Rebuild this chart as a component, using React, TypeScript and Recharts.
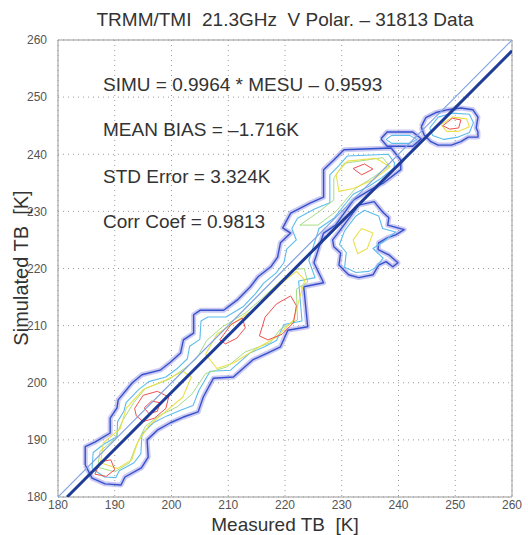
import React from "react";
import {
  CartesianGrid,
  ReferenceLine,
  Scatter,
  ScatterChart,
  XAxis,
  YAxis,
} from "recharts";

type Pt = [number, number];

// axis ticks
const xTicks = [180, 190, 200, 210, 220, 230, 240, 250, 260];
const yTicks = [180, 190, 200, 210, 220, 230, 240, 250, 260];

// 1:1 line and fitted line
const oneToOne: Pt[] = [[180, 180], [260, 260]];
const fitLine: Pt[] = [[181.6, 180], [260, 258.1]];

// main band along the diagonal - outermost contour
const mainOuter: Pt[] = [
  [184.8, 185.6], [184.8, 188.8], [186.5, 189.6], [189.2, 191.2], [189.2, 193.8], [190.4, 195.6],
  [190.6, 197.0], [193.1, 200.0], [194.8, 201.4], [198.0, 202.2], [199.8, 203.6], [201.6, 205.2],
  [202.1, 207.5], [203.9, 208.7], [203.9, 211.9], [205.1, 212.7], [209.2, 212.7], [211.6, 214.5],
  [213.9, 216.8], [215.2, 218.5], [217.5, 220.3], [218.7, 222.0], [219.2, 224.5], [221.0, 226.2],
  [219.6, 227.1], [221.0, 229.7], [224.5, 231.5], [226.8, 232.5], [226.8, 237.3], [228.6, 239.0],
  [230.4, 240.8], [238.7, 241.1], [240.4, 239.0], [240.4, 237.3], [237.4, 235.0], [235.1, 233.8],
  [232.1, 232.0], [228.9, 227.6], [226.8, 226.2], [225.1, 221.0], [226.8, 217.5], [223.3, 216.8],
  [224.0, 209.8], [220.5, 209.2], [219.2, 206.3], [216.9, 205.2], [214.3, 204.0], [210.9, 201.0],
  [207.4, 200.8], [205.6, 197.5], [204.7, 194.9], [202.1, 194.0], [199.8, 193.0], [197.5, 191.7],
  [195.7, 190.0], [195.9, 187.0], [194.7, 185.1], [191.8, 183.5], [191.1, 182.1], [188.3, 182.3],
  [186.0, 183.3], [184.8, 185.6],
];

const mainInner: Pt[] = [
  [186.0, 185.0], [186.2, 187.8], [188.0, 189.2], [190.4, 190.6], [190.5, 193.2], [191.6, 195.0],
  [192.0, 196.5], [194.2, 198.8], [196.0, 200.2], [199.0, 201.0], [200.9, 202.4], [202.8, 204.2],
  [203.2, 206.4], [205.0, 207.6], [205.2, 210.8], [206.4, 211.5], [209.6, 211.5], [212.6, 213.3],
  [214.8, 215.6], [216.2, 217.4], [218.4, 219.2], [219.8, 221.0], [220.3, 223.4], [222.0, 225.0],
  [221.2, 227.0], [222.2, 228.8], [225.2, 230.4], [227.9, 231.5], [227.9, 236.4], [229.5, 238.0],
  [231.0, 239.7], [238.2, 240.0], [239.3, 238.5], [239.2, 237.6], [236.8, 235.7], [234.8, 234.4],
  [232.0, 233.0], [228.6, 228.8], [226.0, 227.0], [224.2, 221.4], [225.3, 218.4], [222.4, 217.8],
  [223.0, 210.8], [219.8, 210.2], [218.5, 207.4], [216.4, 206.3], [213.8, 205.2], [210.4, 202.2],
  [206.8, 202.0], [204.8, 198.6], [203.8, 196.0], [201.6, 195.2], [199.2, 194.2], [196.8, 193.0],
  [194.8, 191.0], [194.6, 187.6], [193.4, 186.0], [190.8, 184.6], [190.2, 183.4], [188.2, 183.5],
  [186.0, 185.0],
];

// separate blob below the line around 230 K
const lowerOuter: Pt[] = [
  [233.0, 231.1], [235.7, 231.7], [237.2, 229.9], [238.3, 228.9], [238.1, 227.6], [241.0, 226.8],
  [239.5, 225.9], [238.1, 225.4], [236.5, 224.5], [236.4, 223.3], [238.3, 222.4], [239.9, 221.0],
  [239.0, 220.3], [237.8, 221.2], [236.5, 220.6], [235.5, 218.9], [233.0, 218.4], [231.2, 218.9],
  [229.5, 220.6], [229.8, 222.7], [228.6, 223.8], [228.4, 225.0], [229.5, 226.4], [233.0, 231.1],
];
const lowerInner: Pt[] = [
  [234.0, 230.2], [236.5, 229.2], [237.2, 227.0], [239.5, 226.4], [237.2, 224.6], [235.5, 223.5],
  [237.3, 221.8], [236.0, 220.2], [234.8, 219.5], [232.5, 219.3], [230.5, 220.2], [230.8, 222.8],
  [229.6, 224.2], [230.5, 226.6], [232.5, 229.2], [234.0, 230.2],
];

// top right blob
const topOuter: Pt[] = [
  [244.0, 244.8], [244.8, 246.4], [246.6, 247.3], [248.7, 247.8], [251.0, 248.1], [253.1, 247.8],
  [254.0, 246.5], [253.7, 244.6], [254.0, 243.9], [254.0, 243.0], [252.3, 243.0], [251.0, 242.2],
  [249.3, 241.6], [247.0, 241.6], [245.7, 242.2], [244.5, 243.4], [244.0, 244.8],
];
const topInner: Pt[] = [
  [245.5, 244.6], [247.0, 246.5], [249.5, 247.2], [252.5, 247.0], [253.2, 245.5], [252.5, 243.8],
  [250.5, 243.0], [248.0, 242.6], [246.0, 243.3], [245.5, 244.6],
];

// small oval left of the top blob
const ovalOuter: Pt[] = [
  [236.9, 242.7], [238.0, 243.9], [242.5, 243.9], [244.0, 242.7], [242.5, 241.4], [238.0, 241.4], [236.9, 242.7],
];
const ovalInner: Pt[] = [
  [237.8, 242.6], [238.8, 243.3], [242.0, 243.3], [243.2, 242.6], [242.0, 241.9], [238.8, 241.9], [237.8, 242.6],
];

// green level
const greenLow: Pt[] = [
  [187.0, 185.2], [187.4, 188.0], [190.0, 190.2], [191.4, 193.4], [193.4, 196.6], [195.4, 199.0],
  [199.6, 200.6], [202.4, 202.6], [204.4, 204.2], [206.2, 207.4], [209.0, 209.8], [213.0, 212.2],
  [216.0, 214.8], [218.8, 217.4], [221.4, 219.8], [223.4, 220.0], [224.0, 217.6], [222.0, 216.4],
  [222.2, 211.0], [219.2, 209.4], [217.4, 207.0], [213.0, 205.4], [209.8, 202.8], [206.0, 201.6],
  [203.6, 198.0], [201.0, 195.8], [197.8, 194.2], [195.4, 192.4], [193.6, 188.6], [192.6, 186.0],
  [190.0, 184.4], [187.0, 185.2],
];
const greenUp: Pt[] = [
  [222.6, 227.6], [225.8, 229.8], [228.6, 232.0], [228.6, 235.8], [230.4, 238.4], [237.2, 239.4],
  [238.4, 238.0], [235.6, 236.0], [232.4, 234.0], [229.0, 230.0], [225.8, 227.6], [222.6, 227.6],
];

// yellow levels
const yellowLow: Pt[] = [
  [187.5, 186.0], [188.0, 189.5], [191.0, 192.0], [192.0, 195.5], [195.0, 198.8], [199.0, 200.5],
  [202.0, 202.0], [203.5, 201.0], [202.0, 197.5], [199.0, 195.0], [196.0, 192.5], [194.0, 189.5],
  [193.0, 186.5], [190.5, 185.0], [187.5, 186.0],
];
const yellowMid: Pt[] = [
  [206.0, 205.0], [208.0, 208.5], [211.0, 210.5], [214.0, 212.5], [217.0, 215.0], [219.5, 217.5],
  [222.0, 219.5], [223.5, 218.0], [222.5, 214.5], [221.5, 211.0], [218.5, 208.0], [215.0, 206.0],
  [211.0, 203.5], [208.0, 202.5], [206.0, 205.0],
];
const yellowUp: Pt[] = [
  [229.0, 236.5], [231.0, 238.8], [236.0, 239.3], [238.5, 237.8], [235.5, 235.5], [232.0, 234.0],
  [229.5, 233.5], [229.0, 236.5],
];
const yellowLower: Pt[] = [
  [232.0, 225.0], [233.5, 227.0], [235.5, 226.2], [234.5, 223.5], [232.8, 222.6], [232.0, 225.0],
];
const yellowTop: Pt[] = [
  [247.5, 245.2], [249.5, 246.5], [252.0, 246.2], [252.5, 244.8], [250.5, 244.0], [248.5, 244.0], [247.5, 245.2],
];

// red cores
const redA: Pt[] = [
  [193.5, 195.5], [195.0, 197.8], [197.5, 198.5], [199.5, 197.5], [199.0, 195.5], [197.0, 193.8],
  [195.0, 193.2], [193.8, 194.2], [193.5, 195.5],
];
const redA2: Pt[] = [[195.2, 195.6], [196.5, 196.8], [198.0, 196.5], [197.5, 195.0], [196.0, 194.6], [195.2, 195.6]];
const redB: Pt[] = [[186.5, 184.0], [187.5, 186.2], [189.3, 186.5], [190.0, 184.8], [188.5, 183.6], [186.5, 184.0]];
const redC: Pt[] = [
  [208.5, 207.5], [210.5, 210.2], [212.5, 211.3], [213.0, 209.6], [211.5, 207.8], [209.5, 206.8], [208.5, 207.5],
];
const redD: Pt[] = [
  [215.5, 208.2], [216.5, 211.5], [218.5, 213.8], [221.0, 215.2], [222.0, 213.5], [221.5, 210.5],
  [219.5, 208.5], [217.0, 207.5], [215.5, 208.2],
];
const redE: Pt[] = [[232.0, 237.5], [234.0, 238.3], [235.5, 237.4], [233.5, 236.4], [232.0, 237.5]];
const redTop: Pt[] = [[247.8, 245.0], [249.5, 246.3], [251.0, 246.0], [250.6, 244.6], [249.0, 244.4], [247.8, 245.0]];

const toXY = (pts: Pt[]) => pts.map(([x, y]) => ({ x, y }));

const outers = [mainOuter, lowerOuter, topOuter, ovalOuter];
const inners = [mainInner, lowerInner, topInner, ovalInner];
const greens = [greenLow, greenUp];
const yellows = [yellowLow, yellowMid, yellowUp, yellowLower, yellowTop];
const reds = [redA, redA2, redB, redC, redD, redE, redTop];

const noDot = () => <g />;

function path(key: string, pts: Pt[], stroke: string, width: number, opacity = 1) {
  return (
    <Scatter
      key={key}
      data={toXY(pts)}
      fill="none"
      shape={noDot}
      line={{ stroke, strokeWidth: width, strokeOpacity: opacity, strokeLinejoin: "round" }}
      lineType="joint"
      isAnimationActive={false}
      legendType="none"
    />
  );
}

const font = "'Liberation Sans', Arial, Helvetica, sans-serif";
const statStyle: React.CSSProperties = {
  position: "absolute",
  left: 103,
  fontSize: 19,
  color: "#333",
  fontFamily: font,
  whiteSpace: "pre",
  lineHeight: "22px",
};

export default function App() {
  return (
    <div style={{ position: "absolute", left: 0, top: 0, width: 528, height: 535, background: "#fff" }}>
      <ScatterChart width={528} height={535} margin={{ top: 40, right: 16, bottom: 8, left: 10 }}>
        <CartesianGrid stroke="#9a9a9a" strokeDasharray="1 4" />
        <XAxis
          type="number"
          dataKey="x"
          domain={[180, 260]}
          ticks={xTicks}
          allowDataOverflow
          height={30}
          tickLine={false}
          tickSize={3}
          tickMargin={0}
          stroke="#999"
          tick={{ fill: "#555", fontSize: 12, fontFamily: font }}
        />
        <YAxis
          type="number"
          dataKey="y"
          domain={[180, 260]}
          ticks={yTicks}
          allowDataOverflow
          width={48}
          tickLine={false}
          tickMargin={5}
          stroke="#999"
          tick={{ fill: "#555", fontSize: 12, fontFamily: font }}
        />
        <ReferenceLine x={260} stroke="#999" />
        <ReferenceLine y={260} stroke="#999" />
        {outers.map((p, i) => path(`oo${i}`, p, "#9a94e6", 5, 0.5))}
        {outers.map((p, i) => path(`o${i}`, p, "#3552cc", 1.4))}
        {inners.map((p, i) => path(`i${i}`, p, "#5dbcec", 1.1))}
        {greens.map((p, i) => path(`g${i}`, p, "#a6dc86", 1))}
        {yellows.map((p, i) => path(`y${i}`, p, "#ece04a", 1.1))}
        {reds.map((p, i) => path(`r${i}`, p, "#ef5050", 1))}
        {path("one", oneToOne, "#7fa2e2", 1.2)}
        {path("fit", fitLine, "#1f3c98", 3)}
      </ScatterChart>

      <div
        style={{
          position: "absolute",
          top: 9,
          left: 58,
          width: 454,
          textAlign: "center",
          fontSize: 19,
          lineHeight: "22px",
          color: "#333",
          fontFamily: font,
          whiteSpace: "pre",
        }}
      >
        {"TRMM/TMI  21.3GHz  V Polar. \u2013 31813 Data"}
      </div>
      <div style={{ ...statStyle, top: 74 }}>{"SIMU = 0.9964 * MESU \u2013 0.9593"}</div>
      <div style={{ ...statStyle, top: 119 }}>{"MEAN BIAS = \u20131.716K"}</div>
      <div style={{ ...statStyle, top: 166 }}>{"STD Error = 3.324K"}</div>
      <div style={{ ...statStyle, top: 211 }}>{"Corr Coef = 0.9813"}</div>
      <div
        style={{
          position: "absolute",
          top: 515,
          left: 58,
          width: 454,
          textAlign: "center",
          fontSize: 19,
          lineHeight: "20px",
          color: "#333",
          fontFamily: font,
          whiteSpace: "pre",
        }}
      >
        {"Measured TB  [K]"}
      </div>
      <div
        style={{
          position: "absolute",
          left: 21,
          top: 268,
          transform: "translate(-50%, -50%) rotate(-90deg)",
          fontSize: 20,
          lineHeight: "22px",
          color: "#333",
          fontFamily: font,
          whiteSpace: "pre",
        }}
      >
        {"Simulated TB  [K]"}
      </div>
    </div>
  );
}
